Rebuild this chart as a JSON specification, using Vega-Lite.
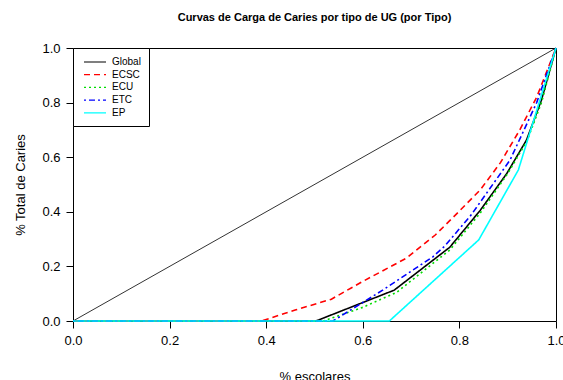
{
  "$schema": "https://vega.github.io/schema/vega-lite/v6.json",
  "width": 483,
  "height": 273,
  "autosize": {"type": "none"},
  "padding": {"left": 73, "top": 48, "right": 7, "bottom": 59},
  "background": "white",
  "title": {
    "text": "Curvas de Carga de Caries por tipo de UG (por Tipo)",
    "font": "Liberation Sans",
    "fontSize": 11,
    "fontWeight": "bold",
    "color": "#000",
    "anchor": "middle",
    "offset": 19
  },
  "config": {
    "view": {"stroke": "#000", "strokeWidth": 1},
    "axis": {
      "labelFont": "Liberation Sans",
      "titleFont": "Liberation Sans",
      "labelFontSize": 13,
      "titleFontSize": 13,
      "titleFontWeight": "normal",
      "labelColor": "#000",
      "titleColor": "#000",
      "tickColor": "#000",
      "tickSize": 7,
      "domain": false,
      "grid": false
    },
    "legend": {
      "labelFont": "Liberation Sans",
      "labelFontSize": 10,
      "labelColor": "#000"
    }
  },
  "datasets": {
    "diag": [{"x": 0, "y": 0}, {"x": 1, "y": 1}],
    "curves": [
      {"serie": "Global", "x": 0, "y": 0},
      {"serie": "Global", "x": 0.503, "y": 0},
      {"serie": "Global", "x": 0.665, "y": 0.113},
      {"serie": "Global", "x": 0.78, "y": 0.27},
      {"serie": "Global", "x": 0.843, "y": 0.405},
      {"serie": "Global", "x": 0.898, "y": 0.54},
      {"serie": "Global", "x": 0.939, "y": 0.663},
      {"serie": "Global", "x": 0.97, "y": 0.81},
      {"serie": "Global", "x": 1, "y": 1},
      {"serie": "ECSC", "x": 0, "y": 0},
      {"serie": "ECSC", "x": 0.39, "y": 0},
      {"serie": "ECSC", "x": 0.46, "y": 0.04},
      {"serie": "ECSC", "x": 0.535, "y": 0.08},
      {"serie": "ECSC", "x": 0.6, "y": 0.145},
      {"serie": "ECSC", "x": 0.69, "y": 0.23},
      {"serie": "ECSC", "x": 0.75, "y": 0.315},
      {"serie": "ECSC", "x": 0.79, "y": 0.385},
      {"serie": "ECSC", "x": 0.843, "y": 0.48},
      {"serie": "ECSC", "x": 0.885, "y": 0.58},
      {"serie": "ECSC", "x": 0.925, "y": 0.70},
      {"serie": "ECSC", "x": 0.96, "y": 0.82},
      {"serie": "ECSC", "x": 1, "y": 1},
      {"serie": "ECU", "x": 0, "y": 0},
      {"serie": "ECU", "x": 0.518, "y": 0},
      {"serie": "ECU", "x": 0.6, "y": 0.05},
      {"serie": "ECU", "x": 0.67, "y": 0.105},
      {"serie": "ECU", "x": 0.78, "y": 0.26},
      {"serie": "ECU", "x": 0.843, "y": 0.395},
      {"serie": "ECU", "x": 0.9, "y": 0.54},
      {"serie": "ECU", "x": 0.94, "y": 0.66},
      {"serie": "ECU", "x": 0.97, "y": 0.8},
      {"serie": "ECU", "x": 1, "y": 1},
      {"serie": "ETC", "x": 0, "y": 0},
      {"serie": "ETC", "x": 0.538, "y": 0},
      {"serie": "ETC", "x": 0.642, "y": 0.114},
      {"serie": "ETC", "x": 0.745, "y": 0.235},
      {"serie": "ETC", "x": 0.77, "y": 0.275},
      {"serie": "ETC", "x": 0.825, "y": 0.39},
      {"serie": "ETC", "x": 0.905, "y": 0.59},
      {"serie": "ETC", "x": 0.96, "y": 0.8},
      {"serie": "ETC", "x": 1, "y": 1},
      {"serie": "EP", "x": 0, "y": 0},
      {"serie": "EP", "x": 0.655, "y": 0},
      {"serie": "EP", "x": 0.84, "y": 0.297},
      {"serie": "EP", "x": 0.922, "y": 0.553},
      {"serie": "EP", "x": 1, "y": 1}
    ]
  },
  "layer": [
    {
      "data": {"name": "diag"},
      "mark": {"type": "line", "color": "#333", "strokeWidth": 1},
      "encoding": {
        "x": {"field": "x", "type": "quantitative"},
        "y": {"field": "y", "type": "quantitative"}
      }
    },
    {
      "data": {"name": "curves"},
      "mark": {"type": "line", "strokeWidth": 1.6},
      "encoding": {
        "x": {
          "field": "x", "type": "quantitative",
          "scale": {"domain": [0, 1], "nice": false, "zero": false},
          "axis": {"title": "% escolares", "values": [0, 0.2, 0.4, 0.6, 0.8, 1], "format": ".1f", "labelPadding": 6, "titlePadding": 23, "labelFlush": false}
        },
        "y": {
          "field": "y", "type": "quantitative",
          "scale": {"domain": [0, 1], "nice": false, "zero": false},
          "axis": {"title": "% Total de Caries", "values": [0, 0.2, 0.4, 0.6, 0.8, 1], "format": ".1f", "labelPadding": 6, "titlePadding": 14, "labelFlush": false}
        },
        "color": {
          "field": "serie", "type": "nominal",
          "scale": {"domain": ["Global", "ECSC", "ECU", "ETC", "EP"], "range": ["#000000", "#FF0000", "#00DD00", "#0000FF", "#00FFFF"]},
          "legend": {
            "title": null,
            "orient": "none",
            "legendX": 0,
            "legendY": 0,
            "symbolType": "M-0.6,0H3.8",
            "symbolSize": 100,
            "symbolStrokeWidth": 1.2,
            "strokeColor": "#000",
            "fillColor": "white",
            "padding": 8,
            "rowPadding": 1.7,
            "labelOffset": 19
          }
        },
        "strokeDash": {
          "field": "serie", "type": "nominal",
          "scale": {"domain": ["Global", "ECSC", "ECU", "ETC", "EP"], "range": [[1, 0], [6, 4], [2, 3], [2, 3, 6, 3], [1, 0]]},
          "legend": null
        }
      }
    }
  ]
}
